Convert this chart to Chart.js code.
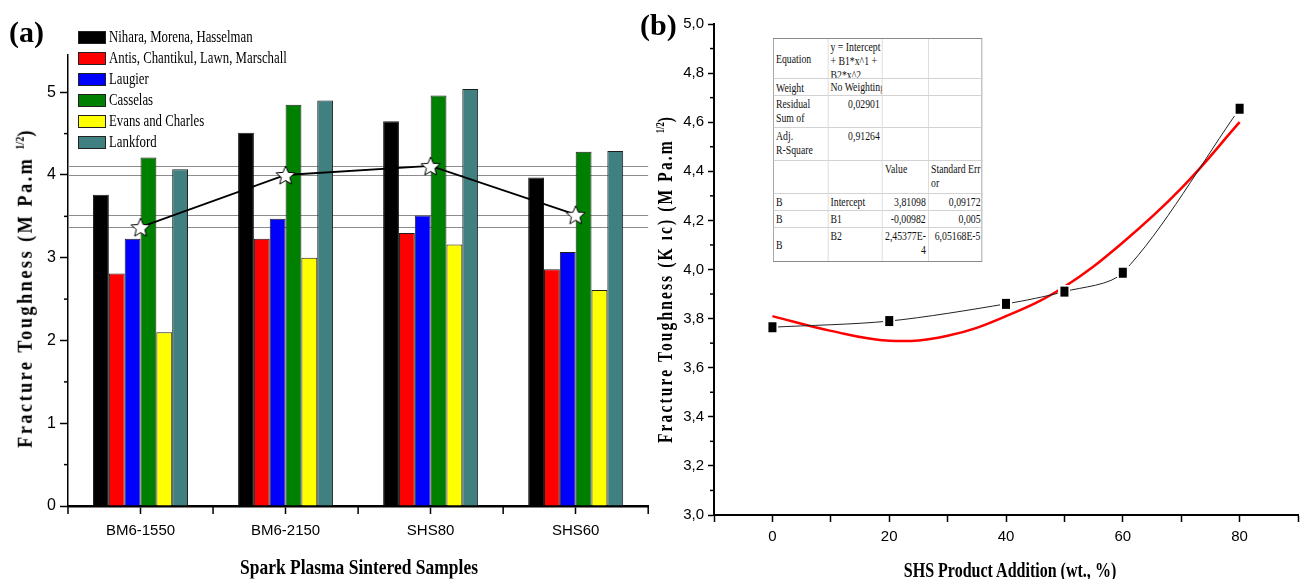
<!DOCTYPE html>
<html>
<head>
<meta charset="utf-8">
<script src="https://cdn.jsdelivr.net/npm/chart.js@4.4.1/dist/chart.umd.min.js"></script>
<style>
  body { margin: 0; background: #fff; }
  #page { position: relative; width: 1303px; height: 579px; overflow: hidden; background: #fff; }
  canvas { position: absolute; top: 0; }
  .serif { position: absolute; font-family: 'Liberation Serif', 'Times New Roman', serif; color: #000; white-space: nowrap; line-height: 1; }
  .panel { font-size: 30px; font-weight: bold; }
  .title { left: 0; top: 0; font-size: 21px; font-weight: bold; }
  .vtitle { font-size: 22px; font-weight: bold; letter-spacing: 3px; }
  .vtitle sup { font-size: 0.55em; letter-spacing: 0; vertical-align: 0.7em; }
  #legendA .row { position: absolute; left: 78px; height: 14px; }
  #legendA .sw { position: absolute; left: 0; top: 0; width: 28px; height: 13px; border: 1px solid #222; box-sizing: border-box; }
  #legendA .lb { position: absolute; left: 31px; top: -2px; font-size: 16px; transform-origin: 0 50%; }
  #fitTable { position: absolute; left: 773px; top: 38px; width: 278.7px; transform: scaleX(0.75); transform-origin: 0 0;
    display: grid; grid-template-columns: 72.7px 72.7px 61.3px 72px; grid-template-rows: 40px 17px 32px 33px 33px 17px 17px 33px;
    border: 1px solid #8a8a8a; box-sizing: border-box; background: #fff;
    font-family: 'Liberation Serif', 'Times New Roman', serif; font-size: 13px; line-height: 14px; color: #111; }
  #fitTable div { border-right: 1px solid #d2d2d2; border-bottom: 1px solid #d2d2d2; overflow: hidden; padding: 1px 3px 0 3px; white-space: nowrap; }
  #fitTable .mid { display: flex; align-items: center; }
  #fitTable .r { text-align: right; }
</style>
</head>
<body>
<div id="page">
  <canvas id="chartA" width="660" height="579" style="left:0"></canvas>
  <canvas id="chartB" width="656" height="579" style="left:649px"></canvas>
  <div class="serif panel" style="left:9px; top:17px">(a)</div>
  <div class="serif panel" style="left:640px; top:10px">(b)</div>
  <div id="legendA"></div>
  <div id="fitTable"></div>
  <div class="serif vtitle" id="yTitleA">Fracture Toughness (M Pa.m <sup>1/2</sup>)</div>
  <div class="serif vtitle" id="yTitleB">Fracture Toughness (K ıc) (M Pa.m <sup>1/2</sup>)</div>
  <div class="serif title" id="xTitleA">Spark Plasma Sintered Samples</div>
  <div class="serif title" id="xTitleB">SHS Product Addition (wt., %)</div>
</div>
<script>
// ---- panel (a) data ----
const samples = ["BM6-1550", "BM6-2150", "SHS80", "SHS60"];
const models = ["Nihara, Morena, Hasselman", "Antis, Chantikul, Lawn, Marschall", "Laugier", "Casselas", "Evans and Charles", "Lankford"];
const modelColors = ["#000000", "#ff0000", "#0000ff", "#008000", "#ffff00", "#408080"];
const nihara = [3.76, 4.51, 4.65, 3.97];
const antis = [2.81, 3.23, 3.30, 2.86];
const laugier = [3.23, 3.47, 3.51, 3.07];
const casselas = [4.21, 4.85, 4.96, 4.28];
const evans = [2.10, 3.00, 3.16, 2.61];
const lankford = [4.07, 4.90, 5.04, 4.29];
const measured = [3.37, 4.00, 4.11, 3.52];
const yTicksA = [0, 1, 2, 3, 4, 5];
const yMinorA = [0.5, 1.5, 2.5, 3.5, 4.5];

// ---- panel (b) data ----
const shsAdd = [0, 20, 40, 50, 60, 80];
const kic = [3.765, 3.79, 3.86, 3.91, 3.987, 4.655];
const fitX = [0, 10, 20, 30, 40, 50, 60, 70, 80];
const fitY = [3.81, 3.75, 3.71, 3.73, 3.81, 3.93, 4.11, 4.33, 4.60];
const yMinorB = [3.1, 3.3, 3.5, 3.7, 3.9, 4.1, 4.3, 4.5, 4.7, 4.9];

// fit report table
const fitNames = ["Intercept", "B1", "B2"];
const fitValues = ["3,81098", "-0,00982", "2,45377E-<br>4"];
const fitErrors = ["0,09172", "0,005", "6,05168E-5"];
const residualSS = "0,02901";
const adjR2 = "0,91264";

const sans = "'Liberation Sans', Arial, sans-serif";
Chart.defaults.font.family = sans;
Chart.defaults.color = "#000";

function starImage(r) {
  const s = Math.ceil(r * 2 + 4);
  const c = document.createElement("canvas");
  c.width = s; c.height = s;
  const g = c.getContext("2d");
  g.beginPath();
  for (let i = 0; i < 10; i++) {
    const rad = i % 2 ? r * 0.45 : r;
    const a = -Math.PI / 2 + i * Math.PI / 5;
    g.lineTo(s / 2 + rad * Math.cos(a), s / 2 + 1 + rad * Math.sin(a));
  }
  g.closePath();
  g.fillStyle = "#fff"; g.fill();
  g.strokeStyle = "#000"; g.lineWidth = 1; g.stroke();
  return c;
}

function squareImage(w, h) {
  const c = document.createElement("canvas");
  c.width = w + 4; c.height = h + 4;
  const g = c.getContext("2d");
  g.fillStyle = "#fff"; g.fillRect(0, 0, w + 4, h + 4);
  g.fillStyle = "#000"; g.fillRect(2, 2, w, h);
  return c;
}

// reference lines, minor ticks and group boundary ticks
const extras = {
  id: "extras",
  beforeDatasetsDraw(chart, args, opts) {
    if (!opts.levels) return;
    const { ctx, chartArea, scales } = chart;
    ctx.save();
    ctx.strokeStyle = "#8c8c8c"; ctx.lineWidth = 1;
    opts.levels.forEach(v => {
      const y = Math.round(scales.y.getPixelForValue(v)) + 0.5;
      ctx.beginPath(); ctx.moveTo(chartArea.left, y); ctx.lineTo(chartArea.right, y); ctx.stroke();
    });
    ctx.restore();
  },
  afterDraw(chart, args, opts) {
    const { ctx, chartArea, scales } = chart;
    ctx.save();
    ctx.strokeStyle = "#000"; ctx.lineWidth = 1.5;
    (opts.minorY || []).forEach(v => {
      const y = scales.y.getPixelForValue(v);
      ctx.beginPath(); ctx.moveTo(chartArea.left - opts.minorLen, y); ctx.lineTo(chartArea.left, y); ctx.stroke();
    });
    if (opts.groupTicks) {
      const x = scales.x, n = chart.data.labels.length;
      for (let i = 0; i <= n; i++) {
        let px;
        if (i === 0) px = chartArea.left;
        else if (i === n) px = chartArea.right;
        else px = (x.getPixelForValue(i - 1) + x.getPixelForValue(i)) / 2;
        ctx.beginPath(); ctx.moveTo(px, chartArea.bottom); ctx.lineTo(px, chartArea.bottom + opts.groupTicks); ctx.stroke();
      }
    }
    ctx.restore();
  }
};

const seriesA = [nihara, antis, laugier, casselas, evans, lankford];
const barSets = seriesA.map((d, i) => ({
  label: models[i],
  data: d,
  backgroundColor: modelColors[i],
  borderColor: "#1e1e1e",
  borderWidth: 1,
  barPercentage: 1,
  categoryPercentage: 0.655,
  order: 1
}));

new Chart(document.getElementById("chartA"), {
  type: "bar",
  data: {
    labels: samples,
    datasets: [{
      type: "line",
      label: "measured",
      data: measured,
      borderColor: "#000",
      borderWidth: 1.8,
      pointStyle: starImage(10),
      pointRadius: 10,
      tension: 0,
      order: 0
    }].concat(barSets)
  },
  options: {
    responsive: false,
    animation: false,
    layout: { padding: { top: 55, left: 0, right: 10, bottom: 0 } },
    plugins: {
      legend: { display: false },
      tooltip: { enabled: false },
      extras: { levels: measured, minorY: yMinorA, minorLen: 4, groupTicks: 8 }
    },
    scales: {
      x: {
        grid: { display: true, drawOnChartArea: false, offset: false, tickLength: 8, tickWidth: 1.5, tickColor: "#000" },
        border: { display: true, color: "#000", width: 2.5 },
        ticks: { font: { size: 15 }, color: "#000", padding: 8, maxRotation: 0 },
        afterFit(s) { s.height = 73; }
      },
      y: {
        min: 0,
        max: 5.45,
        afterBuildTicks(s) { s.ticks = yTicksA.map(v => ({ value: v })); },
        grid: { display: true, drawOnChartArea: false, tickLength: 8, tickWidth: 1.5, tickColor: "#000" },
        border: { display: true, color: "#000", width: 1.5 },
        ticks: { font: { size: 16 }, color: "#000", padding: 4 },
        afterFit(s) { s.width = 68; }
      }
    }
  },
  plugins: [extras]
});

new Chart(document.getElementById("chartB"), {
  type: "scatter",
  data: {
    datasets: [{
      label: "Polynomial fit",
      data: fitX.map((x, i) => ({ x: x, y: fitY[i] })),
      showLine: true,
      borderColor: "#ff0000",
      borderWidth: 2.5,
      pointRadius: 0,
      tension: 0.4,
      order: 2
    }, {
      label: "Kic",
      data: shsAdd.map((x, i) => ({ x: x, y: kic[i] })),
      showLine: true,
      borderColor: "#222",
      borderWidth: 1,
      tension: 0.3,
      pointStyle: squareImage(8, 10),
      pointRadius: 6,
      order: 1
    }]
  },
  options: {
    responsive: false,
    animation: false,
    layout: { padding: { top: 24, left: 0, right: 1, bottom: 0 } },
    plugins: {
      legend: { display: false },
      tooltip: { enabled: false },
      extras: { minorY: yMinorB, minorLen: 4 }
    },
    scales: {
      x: {
        type: "linear",
        min: -10,
        max: 90,
        grid: { display: true, drawOnChartArea: false, tickLength: 7, tickWidth: 1.5, tickColor: "#000" },
        border: { display: true, color: "#000", width: 2 },
        ticks: {
          stepSize: 10, autoSkip: false, maxRotation: 0, font: { size: 15 }, color: "#000", padding: 6,
          callback: v => (v >= 0 && v <= 80 && v % 20 === 0) ? String(v) : ""
        },
        afterFit(s) { s.height = 64; }
      },
      y: {
        min: 3,
        max: 5,
        grid: { display: true, drawOnChartArea: false, tickLength: 6, tickWidth: 1.5, tickColor: "#000" },
        border: { display: true, color: "#000", width: 2 },
        ticks: { stepSize: 0.2, font: { size: 15 }, color: "#000", padding: 4, callback: v => v.toFixed(1).replace(".", ",") },
        afterFit(s) { s.width = 65; }
      }
    }
  },
  plugins: [extras]
});

// legend of panel (a)
const legendA = document.getElementById("legendA");
models.forEach((m, i) => {
  const row = document.createElement("div");
  row.className = "row";
  row.style.top = (31 + i * 20.9) + "px";
  row.innerHTML = '<div class="sw" style="background:' + modelColors[i] + '"></div><div class="serif lb">' + m + '</div>';
  legendA.appendChild(row);
});
const lbs = legendA.querySelectorAll(".lb");
const kLeg = 144 / lbs[0].offsetWidth;
lbs.forEach(el => { el.style.transform = "scaleX(" + kLeg.toFixed(3) + ")"; });

// fit report table: [class, html]
const cells = [
  ["mid", "Equation"], ["", "y = Intercept<br>+ B1*x^1 +<br>B2*x^2"], ["", ""], ["", ""],
  ["mid", "Weight"], ["", "No Weighting"], ["", ""], ["", ""],
  ["", "Residual<br>Sum of<br>Squares"], ["r", residualSS], ["", ""], ["", ""],
  ["", "Adj.<br>R-Square"], ["r", adjR2], ["", ""], ["", ""],
  ["", ""], ["", ""], ["", "Value"], ["", "Standard Err<br>or"]
];
fitNames.forEach((n, i) => {
  cells.push([i === 2 ? "mid" : "", "B"], ["", n], ["r", fitValues[i]], ["r", fitErrors[i]]);
});
const table = document.getElementById("fitTable");
cells.forEach((c, i) => {
  const d = document.createElement("div");
  if (c[0]) d.className = c[0];
  d.innerHTML = c[1];
  if (i % 4 === 3) d.style.borderRight = "none";
  if (i >= cells.length - 4) d.style.borderBottom = "none";
  table.appendChild(d);
});

// axis titles, stretched to the reference widths
function place(id, cx, cy, len, rotate) {
  const el = document.getElementById(id);
  const k = len / el.offsetWidth;
  el.style.left = cx + "px";
  el.style.top = cy + "px";
  el.style.transform = "translate(-50%,-50%)" + (rotate ? " rotate(-90deg)" : "") + " scaleX(" + k.toFixed(3) + ")";
}
place("yTitleA", 25, 288, 320, true);
place("yTitleB", 665, 279, 328, true);
place("xTitleA", 359, 567, 238, false);
place("xTitleB", 1010, 570, 213, false);
</script>
</body>
</html>
